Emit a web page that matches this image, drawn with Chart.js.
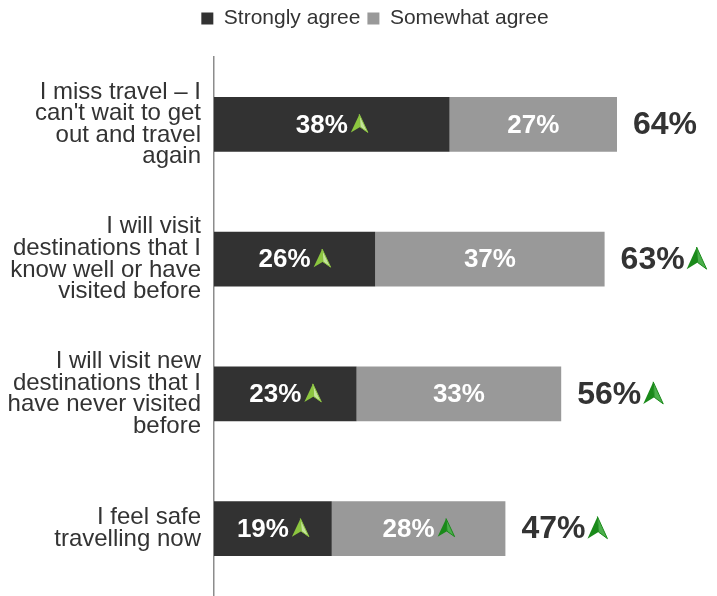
<!DOCTYPE html>
<html>
<head>
<meta charset="utf-8">
<script src="https://cdn.jsdelivr.net/npm/chart.js@4"></script>
<style>
  html, body { margin: 0; padding: 0; background: #fff; }
  #wrap { width: 717px; height: 596px; }
</style>
</head>
<body>
<div id="wrap"><canvas id="myChart"></canvas></div>
<script>
const categories = [
    ["I miss travel \u2013 I", "can't wait to get", "out and travel", "again"],
    ["I will visit", "destinations that I", "know well or have", "visited before"],
    ["I will visit new", "destinations that I", "have never visited", "before"],
    ["I feel safe", "travelling now"]
];
const stronglyAgree = [38, 26, 23, 19];
const somewhatAgree = [27, 37, 33, 28];
const totalLabels = [64, 63, 56, 47];
// significance arrows (1 = arrow shown)
const strongArrows = [1, 1, 1, 1];
const somewhatArrows = [0, 0, 0, 1];
const totalArrows = [0, 1, 1, 1];

const textColor = "#333333";
const fontFam = "'Liberation Sans', Arial, sans-serif";

function drawArrow(ctx, x, y, w, h, light) {
    // little "navigation" arrow, left face filled, right face lighter
    const fillL = light ? "#8cc63f" : "#1a8a1a";
    const fillR = light ? "#c4e39a" : "#4caf4c";
    ctx.save();
    ctx.beginPath();
    ctx.moveTo(x + w / 2, y - h / 2);
    ctx.lineTo(x, y + h / 2);
    ctx.lineTo(x + w * 0.55, y + h * 0.2);
    ctx.closePath();
    ctx.fillStyle = fillL;
    ctx.fill();
    ctx.beginPath();
    ctx.moveTo(x + w / 2, y - h / 2);
    ctx.lineTo(x + w, y + h / 2);
    ctx.lineTo(x + w * 0.55, y + h * 0.2);
    ctx.closePath();
    ctx.fillStyle = fillR;
    ctx.fill();
    ctx.strokeStyle = fillL;
    ctx.lineWidth = 1;
    ctx.stroke();
    ctx.restore();
}

const labelPlugin = {
    id: "labelPlugin",
    afterLayout(chart) {
        // nudge legend like the original (right and up)
        chart.legend.left += 20;
        chart.legend.right += 20;
        chart.legend.top -= 18;
        chart.legend.bottom -= 18;
    },
    afterDatasetsDraw(chart) {
        const ctx = chart.ctx;
        const arrowSets = [strongArrows, somewhatArrows];
        ctx.save();
        ctx.textBaseline = "middle";
        chart.data.datasets.forEach((ds, di) => {
            const meta = chart.getDatasetMeta(di);
            meta.data.forEach((bar, i) => {
                const txt = ds.data[i] + "%";
                ctx.font = "bold 26px " + fontFam;
                const tw = ctx.measureText(txt).width;
                const hasArrow = arrowSets[di][i] === 1;
                const aw = 17, gap = 3;
                const groupW = tw + (hasArrow ? gap + aw : 0);
                const cx = (bar.base + bar.x) / 2;
                const startX = cx - groupW / 2;
                ctx.fillStyle = "#ffffff";
                ctx.textAlign = "left";
                ctx.fillText(txt, startX, bar.y + 1);
                if (hasArrow) {
                    drawArrow(ctx, startX + tw + gap, bar.y - 1, aw, 18, di === 0);
                }
            });
        });
        // totals
        const lastMeta = chart.getDatasetMeta(1);
        lastMeta.data.forEach((bar, i) => {
            const txt = totalLabels[i] + "%";
            ctx.font = "bold 32px " + fontFam;
            const tw = ctx.measureText(txt).width;
            const x0 = bar.x + 16;
            ctx.fillStyle = textColor;
            ctx.textAlign = "left";
            ctx.fillText(txt, x0, bar.y + 1);
            if (totalArrows[i] === 1) {
                drawArrow(ctx, x0 + tw + 2, bar.y - 1, 20, 22, false);
            }
        });
        ctx.restore();
    }
};

const ctx = document.getElementById("myChart").getContext("2d");
const myChart = new Chart(ctx, {
    type: "bar",
    data: {
        labels: categories,
        datasets: [
            {
                label: "Strongly agree",
                data: stronglyAgree,
                backgroundColor: "#323232",
                barPercentage: 0.408,
                categoryPercentage: 1.0,
            },
            {
                label: "Somewhat agree",
                data: somewhatAgree,
                backgroundColor: "#999999",
                barPercentage: 0.408,
                categoryPercentage: 1.0,
            },
        ],
    },
    options: {
        indexAxis: "y",
        responsive: true,
        maintainAspectRatio: false,
        animation: false,
        layout: { padding: { top: 0, right: 7, bottom: 0, left: 0 } },
        plugins: {
            legend: {
                position: "top",
                labels: {
                    boxWidth: 12,
                    boxHeight: 12,
                    padding: 7,
                    color: textColor,
                    font: { size: 21, family: fontFam },
                },
            },
            tooltip: { enabled: false },
        },
        scales: {
            x: {
                stacked: true,
                display: false,
                min: 0,
                max: 80,
            },
            y: {
                stacked: true,
                afterFit(scale) {
                    scale.width = 214;
                    scale.paddingTop = 57;
                    scale.paddingBottom = 0;
                },
                grid: { display: false, drawTicks: false },
                border: { display: true, color: "#8c8c8c", width: 1.5 },
                ticks: {
                    color: textColor,
                    padding: 13,
                    font: { size: 24, lineHeight: 0.9, family: fontFam },
                },
            },
        },
    },
    plugins: [labelPlugin],
});
</script>
</body>
</html>
